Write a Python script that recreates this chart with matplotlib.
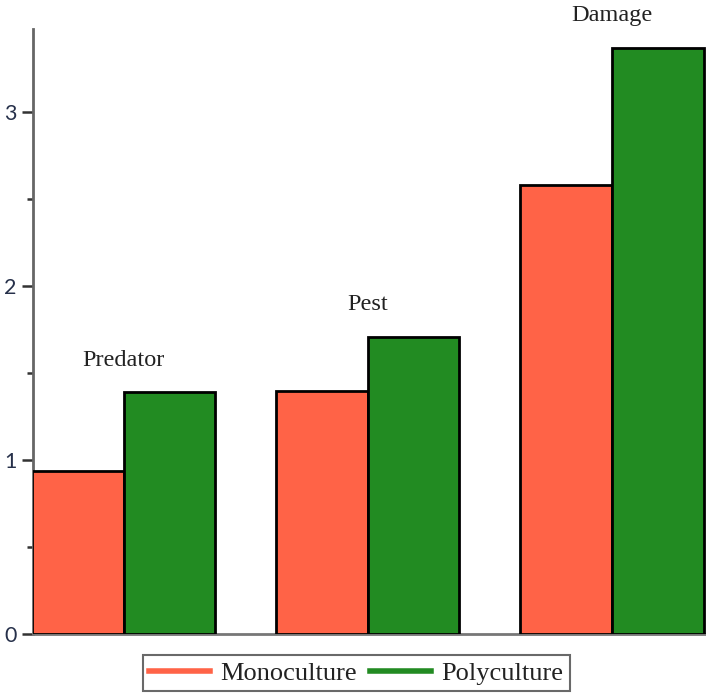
import matplotlib.pyplot as plt
import numpy as np
from matplotlib.ticker import MultipleLocator
from matplotlib.lines import Line2D

# values
groups = ["Predator", "Pest", "Damage"]
mono = [0.94, 1.40, 2.58]
poly = [1.39, 1.71, 3.37]
series_names = ["Monoculture", "Polyculture"]

c_mono = "#FF6347"
c_poly = "#228B22"

fig = plt.figure(figsize=(7.06, 6.94), dpi=100)
ax = fig.add_axes([0.047, 0.0865, 0.953, 0.872])

x = np.arange(len(groups))
w = 0.375
ax.bar(x - w/2, mono, w, color=c_mono, edgecolor="black", linewidth=2, zorder=3)
ax.bar(x + w/2, poly, w, color=c_poly, edgecolor="black", linewidth=2, zorder=3)

for xi, name, top in zip(x, groups, poly):
	ax.text(xi, top + 0.185, name, ha="center", va="center", fontsize=17.5,
		family="Liberation Serif", color="#222222", clip_on=False)

ax.set_xlim(-0.37, 2.385)
ax.set_ylim(0, 3.48)
ax.set_xticks([])
ax.yaxis.set_major_locator(MultipleLocator(1))
ax.yaxis.set_minor_locator(MultipleLocator(0.5))
ax.tick_params(axis="y", which="major", length=8, width=1.8, color="#333333",
	labelsize=15.5, labelcolor="#26304a", pad=4)
ax.tick_params(axis="y", which="minor", length=4, width=1.8, color="#333333")
for lab in ax.get_yticklabels():
	lab.set_family("Lato")

ax.spines["top"].set_visible(False)
ax.spines["right"].set_visible(False)
ax.spines["left"].set_color("#666666")
ax.spines["left"].set_linewidth(2)
ax.spines["bottom"].set_color("#777777")
ax.spines["bottom"].set_linewidth(2)

handles = [Line2D([], [], color=c_mono, lw=4), Line2D([], [], color=c_poly, lw=4)]
leg = fig.legend(handles, series_names, loc="lower center", bbox_to_anchor=(0.505, 0.0),
	ncol=2, frameon=True, fancybox=False, prop={"family": "Liberation Serif", "size": 19},
	handlelength=2.3, handletextpad=0.4, columnspacing=0.5, borderpad=0.25,
	borderaxespad=0.1)
leg.get_frame().set_edgecolor("#444444")
leg.get_frame().set_linewidth(1.5)
for t in leg.get_texts():
	t.set_color("#222222")

plt.savefig("out.png", dpi=100)
plt.close()
